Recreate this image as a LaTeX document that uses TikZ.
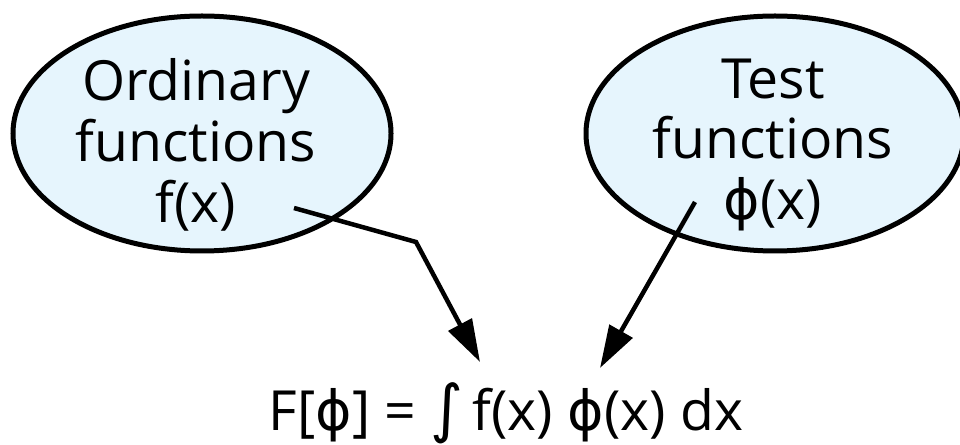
\documentclass[tikz,border=0pt]{standalone}
\usepackage{fontspec}
\setmainfont{Open Sans}
\newfontfamily\symfont{DejaVu Sans}
\usepackage{xcolor}
\usetikzlibrary{shapes.geometric, arrows.meta, positioning}

\definecolor{bubblefill}{RGB}{230,245,253}
\newcommand{\vphi}{{\symfont ϕ}}
\tikzset{
  bubble/.style={ellipse, draw=black, line width=0.1cm, fill=bubblefill,
    minimum width=7.56cm, minimum height=4.7cm, inner sep=0pt},
  bubbletext/.style={align=center, font=\fontsize{31.5}{34.6}\selectfont, inner sep=0pt},
  feed/.style={line width=0.09cm, -{Triangle[length=0.85cm, width=0.52cm]}}
}

\begin{document}
\begin{tikzpicture}
  \useasboundingbox (0,0) rectangle (19.2,-8.9);
  % the two spaces of functions
  \node[bubble] (ordinary) at (4.04,-2.67) {};
  \node[bubbletext] (ordinarytext) at (3.92,-2.9) {Ordinary\\functions\\f(x)};
  \node[bubble] (test) at (15.5,-2.67) {};
  \node[bubbletext] (testtext) at (15.46,-2.9) {Test\\functions\\\vphi(x)};
  % the pairing
  \node[bubbletext, anchor=base] (pairing) at (10.12,-8.6)
    {F[\vphi] = {\symfont\fontsize{36}{36}\selectfont∫}\,f(x) \vphi(x) dx};
  \coordinate (fstart) at (5.88,-4.16);
  \coordinate (fbend) at (8.32,-4.84);
  \coordinate (ftip) at (9.6,-7.24);
  \coordinate (phistart) at (13.9,-4.04);
  \coordinate (phitip) at (12.0,-7.36);
  \draw[feed] (fstart) -- (fbend) -- (ftip);
  \draw[feed] (phistart) -- (phitip);
\end{tikzpicture}
\end{document}
